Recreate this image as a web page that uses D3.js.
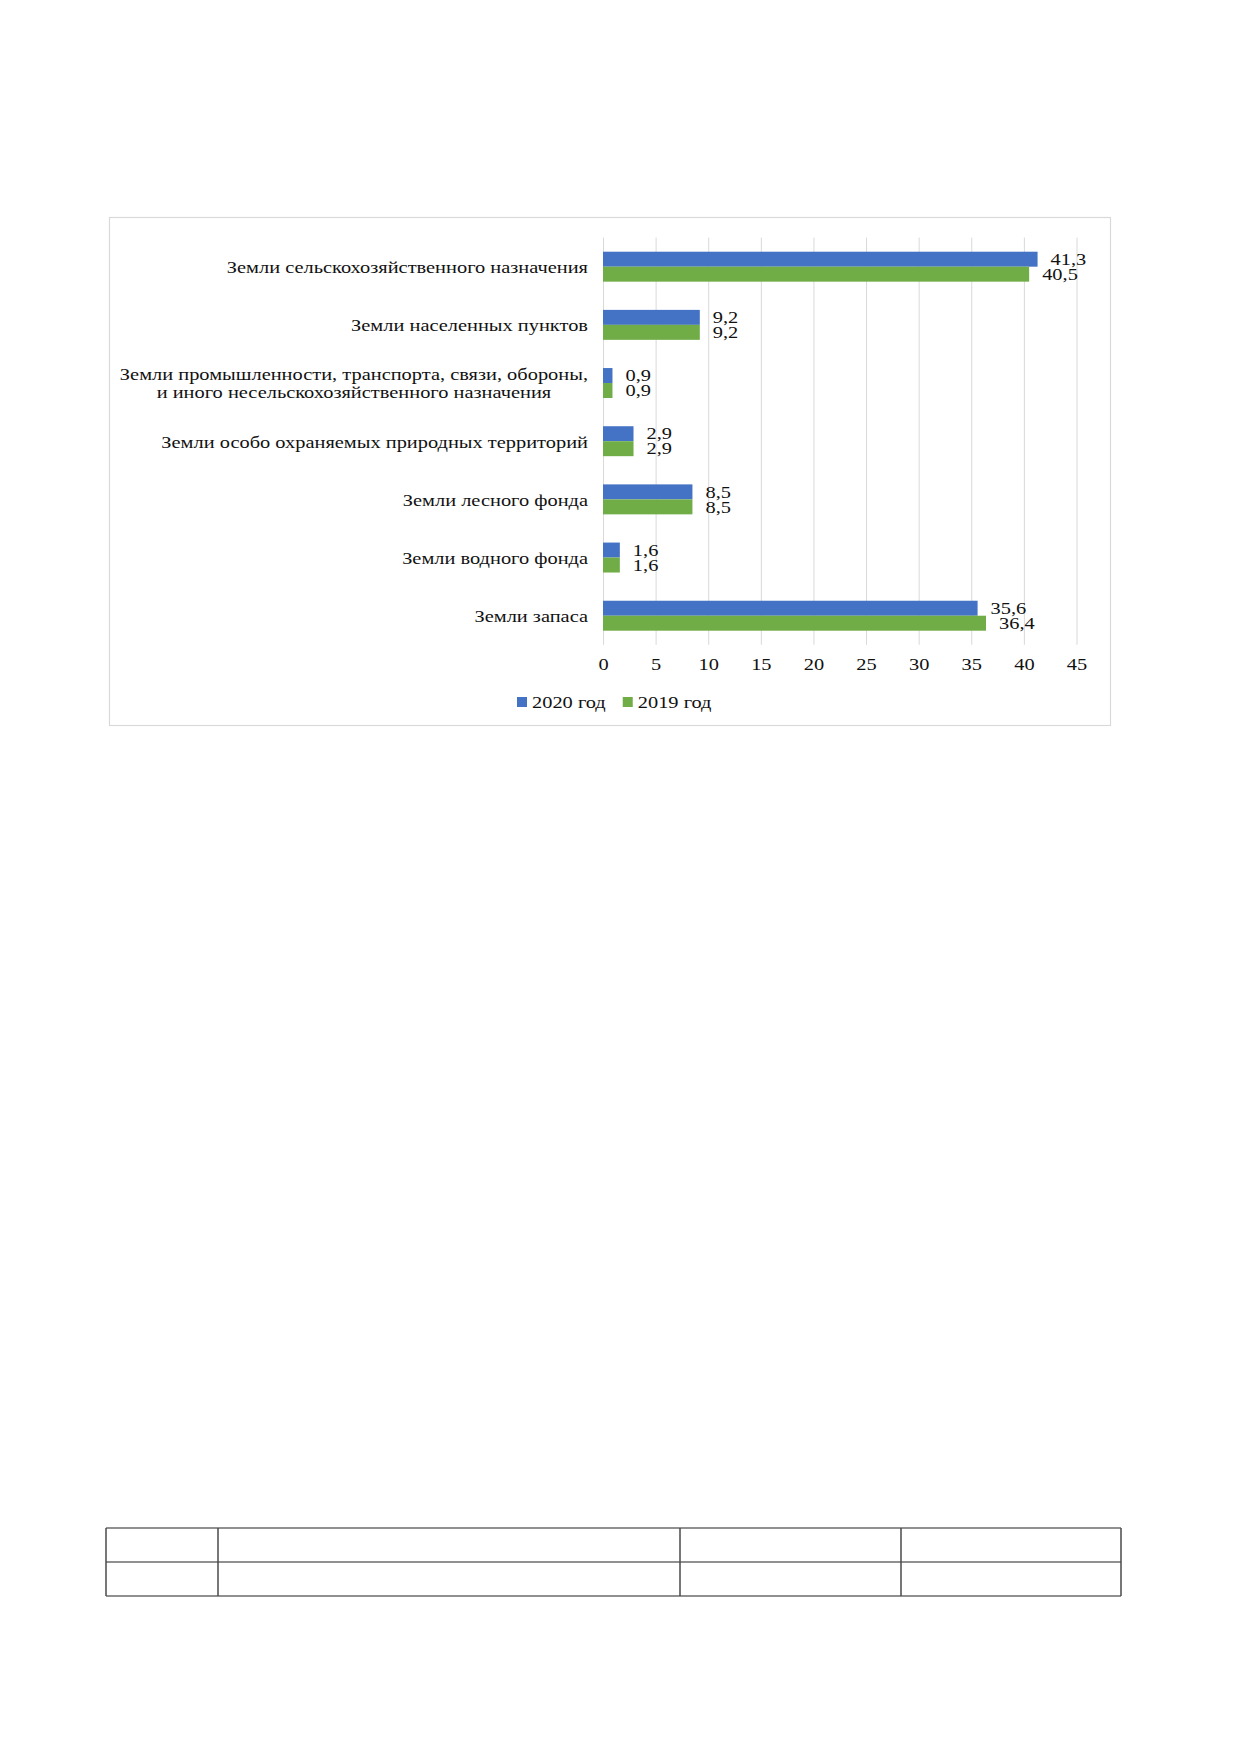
<!DOCTYPE html>
<html>
<head>
<meta charset="utf-8">
<script src="https://d3js.org/d3.v7.min.js"></script>
<style>
body {
    margin: 0;
    background: #fff;
}
svg text {
    font-family: "Liberation Serif", "Times New Roman", serif;
    font-size: 16px;
    fill: #111;
}
.grid line {
    stroke: #d9d9d9;
}
</style>
</head>
<body>
<script>

// data
var categories = [
    "Земли сельскохозяйственного назначения",
    "Земли населенных пунктов",
    "Земли промышленности, транспорта, связи, обороны,\nи иного несельскохозяйственного назначения",
    "Земли особо охраняемых природных территорий",
    "Земли лесного фонда",
    "Земли водного фонда",
    "Земли запаса"
];
var seriesNames = ["2020 год", "2019 год"];
var values2020 = [41.3, 9.2, 0.9, 2.9, 8.5, 1.6, 35.6];
var values2019 = [40.5, 9.2, 0.9, 2.9, 8.5, 1.6, 36.4];
var xTicks = [0, 5, 10, 15, 20, 25, 30, 35, 40, 45];
var xMax = 45;

var colors = ["#4472C4", "#70AD47"];
var stretch = 1.275;   // the scanned text is wider than plain Times

var pageW = 1240, pageH = 1754;
var plot = {left: 603, right: 1076.5, top: 237.6, bottom: 644.8};

var ru = d3.formatLocale({decimal: ",", thousands: " ", grouping: [3], currency: ["", ""]});
var fmt = ru.format(".1f");

var rows = categories.map(function(c, i) {
    return {name: c, values: [values2020[i], values2019[i]]};
});

var svg = d3.select("body").append("svg")
    .attr("width", pageW)
    .attr("height", pageH);

svg.append("rect")
    .attr("width", pageW)
    .attr("height", pageH)
    .attr("fill", "#fff");

// chart frame
svg.append("rect")
    .attr("x", 109.5)
    .attr("y", 217.5)
    .attr("width", 1001)
    .attr("height", 508)
    .attr("fill", "none")
    .attr("stroke", "#d9d9d9")
    .attr("stroke-width", 1.2);

var xScale = d3.scaleLinear()
    .domain([0, xMax])
    .range([plot.left, plot.right]);

var yScale = d3.scaleBand()
    .domain(categories)
    .range([plot.top, plot.bottom])
    .paddingInner(0.485)
    .paddingOuter(0.2425);

var ySeries = d3.scaleBand()
    .domain(seriesNames)
    .range([0, yScale.bandwidth()]);

var xAxis = d3.axisBottom(xScale)
    .tickValues(xTicks)
    .tickSize(-(plot.bottom - plot.top))
    .tickPadding(14)
    .tickFormat(d3.format("d"));

var gx = svg.append("g")
    .attr("class", "grid")
    .attr("transform", "translate(0," + plot.bottom + ")")
    .call(xAxis);

gx.select(".domain").remove();
gx.selectAll("text")
    .attr("transform", "scale(" + stretch + ",1)")
    .style("font-size", "16px")
    .attr("fill", "#111");

// bars
var rowGroup = svg.selectAll(".row")
    .data(rows)
  .enter().append("g")
    .attr("class", "row")
    .attr("transform", function(d) { return "translate(0," + yScale(d.name) + ")" });

rowGroup.selectAll("rect")
    .data(function(d) { return d.values.map(function(v, i) { return {series: seriesNames[i], value: v, i: i} }) })
  .enter().append("rect")
    .attr("x", xScale(0))
    .attr("y", function(d) { return ySeries(d.series) })
    .attr("width", function(d) { return xScale(d.value) - xScale(0) })
    .attr("height", ySeries.bandwidth())
    .attr("fill", function(d) { return colors[d.i] });

rowGroup.selectAll(".value-label")
    .data(function(d) { return d.values.map(function(v, i) { return {series: seriesNames[i], value: v} }) })
  .enter().append("g")
    .attr("class", "value-label")
    .attr("transform", function(d) {
        return "translate(" + (xScale(d.value) + 13) + "," + (ySeries(d.series) + ySeries.bandwidth() / 2) + ") scale(" + stretch + ",1)"
    })
  .append("text")
    .attr("dy", "0.36em")
    .text(function(d) { return fmt(d.value) });

// category labels, multi-line ones centred under the longest line
var labelX = 588;
var lineGap = 18;

var catLabel = svg.selectAll(".cat-label")
    .data(categories)
  .enter().append("g")
    .attr("class", "cat-label")
    .attr("transform", function(d) {
        return "translate(" + labelX + "," + (yScale(d) + yScale.bandwidth() / 2) + ") scale(" + stretch + ",1)"
    });

catLabel.each(function(d) {
    var g = d3.select(this);
    var lines = d.split("\n");
    var text = g.append("text");
    var spans = lines.map(function(line, i) {
        return text.append("tspan")
            .attr("x", 0)
            .attr("y", (i - (lines.length - 1) / 2) * lineGap)
            .attr("dy", "0.4em")
            .text(line);
    });
    if (lines.length > 1) {
        var widths = spans.map(function(s) { return s.node().getComputedTextLength() });
        var maxW = d3.max(widths);
        spans.forEach(function(s) {
            s.attr("x", -maxW / 2).attr("text-anchor", "middle");
        });
    } else {
        text.attr("text-anchor", "end");
    }
});

// legend
var legend = svg.append("g")
    .attr("class", "legend");

var legendX = 517, legendY = 702, box = 10;
seriesNames.forEach(function(name, i) {
    var item = legend.append("g")
        .attr("transform", "translate(" + legendX + "," + legendY + ")");
    item.append("rect")
        .attr("x", 0)
        .attr("y", -box / 2)
        .attr("width", box)
        .attr("height", box)
        .attr("fill", colors[i]);
    var t = item.append("g")
        .attr("transform", "translate(" + (box + 5) + ",0) scale(" + stretch + ",1)")
      .append("text")
        .attr("dy", "0.36em")
        .text(name);
    legendX += box + 5 + t.node().getComputedTextLength() * stretch + 17;
});

// empty table below the chart
var tableCols = [106, 218, 680, 901, 1121];
var tableRows = [1528, 1562, 1596];

var table = svg.append("g").attr("class", "table");

table.selectAll(".hline")
    .data(tableRows)
  .enter().append("line")
    .attr("x1", tableCols[0])
    .attr("x2", tableCols[tableCols.length - 1])
    .attr("y1", function(d) { return d })
    .attr("y2", function(d) { return d })
    .attr("stroke", "#6b6b6b")
    .attr("stroke-width", 1.5);

table.selectAll(".vline")
    .data(tableCols)
  .enter().append("line")
    .attr("x1", function(d) { return d })
    .attr("x2", function(d) { return d })
    .attr("y1", tableRows[0])
    .attr("y2", tableRows[tableRows.length - 1])
    .attr("stroke", "#4a4a4a")
    .attr("stroke-width", 1.5);

</script>
</body>
</html>
